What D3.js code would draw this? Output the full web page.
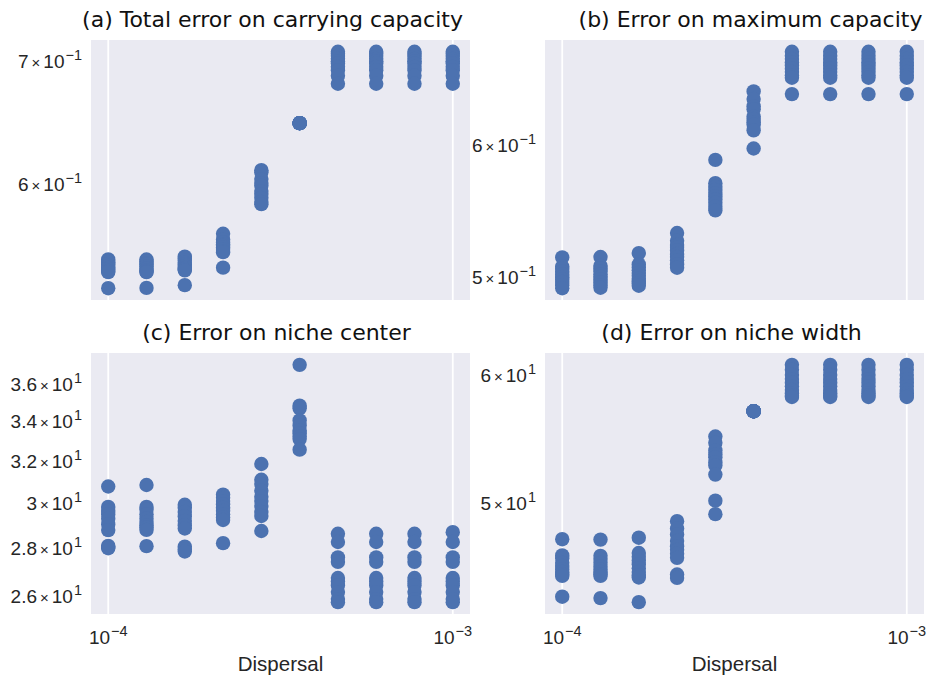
<!DOCTYPE html>
<html>
<head>
<meta charset="utf-8">
<script src="https://cdn.jsdelivr.net/npm/d3@7"></script>
<style>
  html, body { margin: 0; padding: 0; background: #ffffff; }
  svg { display: block; }
</style>
</head>
<body>
<svg id="chart" width="930" height="679"></svg>
<script>
// Dispersal rates (log-spaced) shared by every panel
const dispersal = [1.0e-4, 1.2915e-4, 1.6681e-4, 2.1544e-4, 2.7826e-4,
                   3.5938e-4, 4.6416e-4, 5.9948e-4, 7.7426e-4, 1.0e-3];

// Replicate errors per dispersal value, one array per dispersal value
const carryingErr = [
  [0.5463, 0.5452, 0.5440, 0.5430, 0.5418, 0.5405, 0.5395, 0.5385, 0.5377, 0.5270],
  [0.5462, 0.5450, 0.5438, 0.5428, 0.5415, 0.5400, 0.5390, 0.5380, 0.5377, 0.5272],
  [0.5482, 0.5470, 0.5455, 0.5440, 0.5428, 0.5418, 0.5405, 0.5395, 0.5389, 0.5290],
  [0.5641, 0.5600, 0.5580, 0.5568, 0.5557, 0.5545, 0.5534, 0.5520, 0.5513, 0.5407],
  [0.6108, 0.6090, 0.6040, 0.6010, 0.5990, 0.5950, 0.5928, 0.5900, 0.5870, 0.5854],
  [0.6478, 0.6478, 0.6478, 0.6478, 0.6478, 0.6478, 0.6478, 0.6478, 0.6478, 0.6478],
  [0.7082, 0.7065, 0.7045, 0.7020, 0.7000, 0.6980, 0.6950, 0.6920, 0.6873, 0.6805],
  [0.7082, 0.7065, 0.7045, 0.7020, 0.7000, 0.6980, 0.6950, 0.6920, 0.6873, 0.6805],
  [0.7082, 0.7065, 0.7045, 0.7020, 0.7000, 0.6980, 0.6950, 0.6920, 0.6873, 0.6805],
  [0.7082, 0.7065, 0.7045, 0.7020, 0.7000, 0.6980, 0.6950, 0.6920, 0.6873, 0.6805]
];

const maxCapErr = [
  [0.5140, 0.5075, 0.5060, 0.5040, 0.5020, 0.5000, 0.4985, 0.4968, 0.4945, 0.4925],
  [0.5143, 0.5080, 0.5062, 0.5042, 0.5022, 0.5003, 0.4985, 0.4965, 0.4945, 0.4928],
  [0.5171, 0.5090, 0.5068, 0.5050, 0.5030, 0.5010, 0.4990, 0.4975, 0.4958, 0.4942],
  [0.5317, 0.5260, 0.5230, 0.5214, 0.5190, 0.5165, 0.5143, 0.5120, 0.5090, 0.5067],
  [0.5885, 0.5698, 0.5670, 0.5645, 0.5620, 0.5595, 0.5570, 0.5545, 0.5515, 0.5487],
  [0.6472, 0.6404, 0.6340, 0.6315, 0.6250, 0.6229, 0.6200, 0.6180, 0.6132, 0.5979],
  [0.6838, 0.6800, 0.6770, 0.6740, 0.6710, 0.6680, 0.6650, 0.6620, 0.6596, 0.6448],
  [0.6838, 0.6800, 0.6770, 0.6740, 0.6710, 0.6680, 0.6650, 0.6620, 0.6596, 0.6448],
  [0.6838, 0.6800, 0.6770, 0.6740, 0.6710, 0.6680, 0.6650, 0.6620, 0.6596, 0.6448],
  [0.6838, 0.6800, 0.6770, 0.6740, 0.6710, 0.6680, 0.6650, 0.6620, 0.6596, 0.6448]
];

const centerErr = [
  [30.78, 29.83, 29.65, 29.49, 29.30, 29.04, 28.79, 28.10, 28.05, 28.00],
  [30.85, 29.83, 29.70, 29.50, 29.30, 29.15, 29.00, 28.90, 28.80, 28.09],
  [29.93, 29.80, 29.60, 29.40, 29.20, 29.00, 28.86, 28.07, 27.95, 27.86],
  [30.40, 30.25, 30.10, 29.95, 29.80, 29.65, 29.50, 29.35, 29.24, 28.22],
  [31.86, 31.10, 30.90, 30.58, 30.30, 30.10, 29.87, 29.60, 29.42, 28.75],
  [37.09, 34.84, 34.70, 34.06, 33.80, 33.54, 33.40, 33.23, 33.10, 32.57],
  [28.63, 28.27, 27.61, 27.42, 26.75, 26.61, 26.45, 26.18, 25.90, 25.78],
  [28.63, 28.27, 27.61, 27.42, 26.75, 26.61, 26.45, 26.18, 25.90, 25.78],
  [28.63, 28.27, 27.61, 27.42, 26.75, 26.61, 26.45, 26.18, 25.90, 25.78],
  [28.70, 28.27, 27.61, 27.42, 26.75, 26.61, 26.45, 26.18, 25.90, 25.78]
];

const widthErr = [
  [47.48, 46.39, 46.20, 45.90, 45.70, 45.47, 45.30, 45.15, 45.05, 43.73],
  [47.45, 46.36, 46.15, 45.90, 45.65, 45.45, 45.30, 45.15, 45.05, 43.64],
  [47.58, 46.55, 46.30, 46.05, 45.80, 45.55, 45.30, 45.10, 44.95, 43.39],
  [48.72, 48.21, 47.80, 47.36, 47.00, 46.76, 46.50, 46.23, 45.14, 44.92],
  [54.99, 54.50, 53.91, 53.60, 53.39, 53.00, 52.76, 52.08, 50.17, 49.21],
  [57.02, 57.02, 57.02, 57.02, 57.02, 57.02, 57.02, 57.02, 57.02, 57.02],
  [60.93, 60.50, 60.06, 59.70, 59.40, 59.10, 58.78, 58.50, 58.30, 58.19],
  [60.93, 60.50, 60.06, 59.70, 59.40, 59.10, 58.78, 58.50, 58.30, 58.19],
  [60.93, 60.50, 60.06, 59.70, 59.40, 59.10, 58.78, 58.50, 58.30, 58.19],
  [60.93, 60.50, 60.06, 59.70, 59.40, 59.10, 58.78, 58.50, 58.30, 58.19]
];

// Titles and tick marks
const titles = [
  "(a) Total error on carrying capacity",
  "(b) Error on maximum capacity",
  "(c) Error on niche center",
  "(d) Error on niche width"
];
const yTicksA = [0.6, 0.7];
const yTicksB = [0.5, 0.6];
const yTicksC = [26, 28, 30, 32, 34, 36];
const yTicksD = [50, 60];
const xTicks = [1e-4, 1e-3];
const xLabel = "Dispersal";

// ---------------------------------------------------------------
const BG = "#EAEAF2";
const DOT = "#4C72B0";
const INK = "#262626";
const TICK_FONT = "'Liberation Sans', Arial, sans-serif";
const TITLE_FONT = "'DejaVu Sans', sans-serif";
const TICK_SIZE = 19;
const SUP_SIZE = 14.5;

const svg = d3.select("#chart");

const panels = [
  { data: carryingErr, ticks: yTicksA, title: titles[0], x0: 91,  x1: 470, y0: 40,  y1: 300, bottom: false, titleShift: -8 },
  { data: maxCapErr,   ticks: yTicksB, title: titles[1], x0: 545, x1: 924, y0: 40,  y1: 300, bottom: false, titleShift: 16 },
  { data: centerErr,   ticks: yTicksC, title: titles[2], x0: 91,  x1: 470, y0: 353, y1: 614, bottom: true,  titleShift: -4 },
  { data: widthErr,    ticks: yTicksD, title: titles[3], x0: 545, x1: 924, y0: 353, y1: 614, bottom: true,  titleShift: -3 }
];

// Split a value into mantissa and exponent for "m × 10^e" labels
function sciParts(v) {
  const e = Math.floor(Math.log10(v) + 1e-9);
  const m = +(v / Math.pow(10, e)).toFixed(2);
  return { m: String(m), e: e };
}
function fmtExp(e) { return (e < 0 ? "\u2212" : "") + Math.abs(e); }

// log domain padded by 5% on both ends
function paddedLog(lo, hi) {
  const a = Math.log10(lo), b = Math.log10(hi), p = (b - a) * 0.05;
  return [Math.pow(10, a - p), Math.pow(10, b + p)];
}

panels.forEach(p => {
  const g = svg.append("g");

  const x = d3.scaleLog().domain(paddedLog(xTicks[0], xTicks[1])).range([p.x0, p.x1]);
  const all = p.data.flat();
  const y = d3.scaleLog().domain(paddedLog(d3.min(all), d3.max(all))).range([p.y1, p.y0]);

  // background
  g.append("rect")
    .attr("x", p.x0).attr("y", p.y0)
    .attr("width", p.x1 - p.x0).attr("height", p.y1 - p.y0)
    .attr("fill", BG);

  // vertical grid at decade ticks
  g.selectAll(".grid").data(xTicks).enter().append("line")
    .attr("x1", d => x(d)).attr("x2", d => x(d))
    .attr("y1", p.y0).attr("y2", p.y1)
    .attr("stroke", "#ffffff").attr("stroke-width", 1.8);

  // points
  const pts = [];
  p.data.forEach((col, i) => col.forEach(v => pts.push([dispersal[i], v])));
  g.selectAll(".pt").data(pts).enter().append("circle")
    .attr("cx", d => x(d[0])).attr("cy", d => y(d[1]))
    .attr("r", 7.2)
    .attr("fill", DOT);

  // y tick labels
  p.ticks.forEach(t => {
    const s = sciParts(t);
    const tx = g.append("text")
      .attr("x", p.x0 - 9).attr("y", y(t) + 6.5)
      .attr("text-anchor", "end")
      .attr("font-family", TICK_FONT).attr("font-size", TICK_SIZE)
      .attr("fill", INK);
    tx.append("tspan").text(s.m);
    tx.append("tspan").attr("font-size", 15).attr("dx", 3).text("\u00D7");
    tx.append("tspan").attr("dx", 3).text("10");
    tx.append("tspan").attr("font-size", SUP_SIZE).attr("dy", -8).attr("dx", 1).text(fmtExp(s.e));
  });

  // x tick labels on the bottom row
  if (p.bottom) {
    xTicks.forEach(t => {
      const e = Math.round(Math.log10(t));
      const tx = g.append("text")
        .attr("x", x(t)).attr("y", p.y1 + 30)
        .attr("text-anchor", "middle")
        .attr("font-family", TICK_FONT).attr("font-size", TICK_SIZE)
        .attr("fill", INK);
      tx.append("tspan").text("10");
      tx.append("tspan").attr("font-size", SUP_SIZE).attr("dy", -8).attr("dx", 1).text(fmtExp(e));
    });
    g.append("text")
      .attr("x", (p.x0 + p.x1) / 2).attr("y", p.y1 + 57)
      .attr("text-anchor", "middle")
      .attr("font-family", TICK_FONT).attr("font-size", 20.5)
      .attr("fill", INK)
      .text(xLabel);
  }

  // panel title
  g.append("text")
    .attr("x", (p.x0 + p.x1) / 2 + p.titleShift).attr("y", p.y0 - 13)
    .attr("text-anchor", "middle")
    .attr("font-family", TITLE_FONT).attr("font-size", 22)
    .attr("fill", "#111111")
    .text(p.title);
});
</script>
</body>
</html>
